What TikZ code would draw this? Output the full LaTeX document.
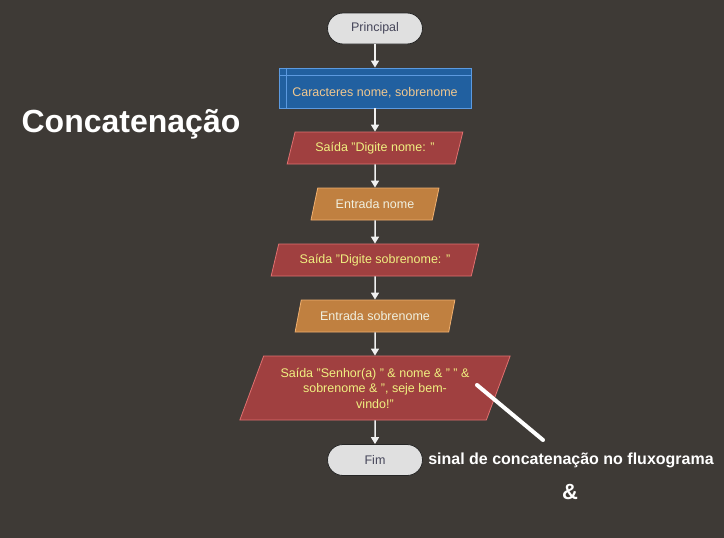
\documentclass[tikz,border=0pt]{standalone}
\usepackage{fontspec}
\setmainfont{Liberation Sans}
\usetikzlibrary{shapes.geometric,arrows.meta}
\definecolor{bgc}{RGB}{62,58,54}
\definecolor{termfill}{RGB}{224,224,224}
\definecolor{termtext}{RGB}{70,70,90}
\definecolor{declfill}{RGB}{33,96,160}
\definecolor{declline}{RGB}{92,154,224}
\definecolor{decltext}{RGB}{240,200,144}
\definecolor{outfill}{RGB}{160,64,64}
\definecolor{outline}{RGB}{224,112,112}
\definecolor{outtext}{RGB}{240,240,128}
\definecolor{infill}{RGB}{192,128,64}
\definecolor{inline}{RGB}{240,176,112}
\definecolor{intext}{RGB}{240,240,224}
\begin{document}
\begin{tikzpicture}[x=1pt,y=-1pt,font=\fontsize{12.5}{15.5}\selectfont,
    term/.style={draw=black!85,fill=termfill,text=termtext,rounded corners=15.5pt,
      minimum width=95pt,minimum height=31pt,line width=.8pt},
    decl/.style={draw=declline,fill=declfill,text=decltext,minimum width=192pt,
      minimum height=40pt,text height=18pt,line width=.8pt},
    io/.style={trapezium,trapezium left angle=63.4,trapezium right angle=116.6,
      trapezium stretches=true,minimum height=32pt,inner sep=0pt,line width=.8pt},
    outp/.style={io,draw=outline,fill=outfill,text=outtext},
    inp/.style={io,draw=inline,fill=infill,text=intext},
    flow/.style={draw=white!94!black,line width=1.5pt,-{Triangle[width=8pt,length=7pt]}},
    bigtext/.style={text=white,font=\fontsize{#1}{#1}\selectfont\bfseries}]
  \fill[bgc] (0,0) rectangle (724,538);
  \node[term] (start) at (375,28.5) {Principal};
  \node[decl] (vars) at (375,88) {Caracteres nome, sobrenome};
  \draw[declline,line width=.8pt] ([xshift=8pt]vars.north west) -- ([xshift=8pt]vars.south west)
    ([yshift=-8pt]vars.north west) -- ([yshift=-8pt]vars.north east);
  \node[outp,minimum width=176pt] (out1) at (375,148) {Saída "Digite nome: "};
  \node[inp,minimum width=128pt] (in1) at (375,204) {Entrada nome};
  \node[outp,minimum width=208pt] (out2) at (375,260) {Saída "Digite sobrenome: "};
  \node[inp,minimum width=160pt] (in2) at (375,316) {Entrada sobrenome};
  \node[outp,minimum width=271pt,minimum height=64pt,align=center] (out3) at (375,388)
    {Saída "Senhor(a) " \& nome \& " " \&\\sobrenome \& ", seje bem-\\vindo!"};
  \node[term] (stop) at (375,460) {Fim};
  \draw[flow] (start) -- (vars);
  \draw[flow] (vars) -- (out1);
  \draw[flow] (out1) -- (in1);
  \draw[flow] (in1) -- (out2);
  \draw[flow] (out2) -- (in2);
  \draw[flow] (in2) -- (out3);
  \draw[flow] (out3) -- (stop);
  \node[bigtext=32] (title) at (131,124) {Concatenação};
  \coordinate (ptrA) at (477,385);
  \coordinate (ptrB) at (543,440);
  \draw[white,line width=4pt,line cap=round] (ptrA) -- (ptrB);
  \node[bigtext=16] (sinal) at (571,460) {sinal de concatenação no fluxograma};
  \node[bigtext=22] (amp) at (570,492) {\&};
\end{tikzpicture}
\end{document}
